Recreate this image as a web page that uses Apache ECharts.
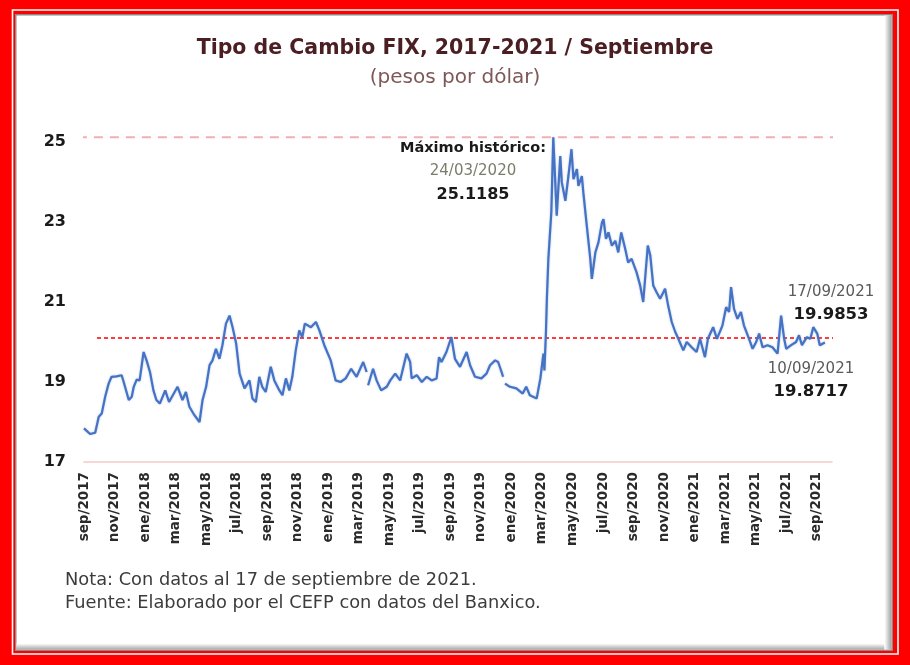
<!DOCTYPE html>
<html>
<head>
<meta charset="utf-8">
<script src="https://cdn.jsdelivr.net/npm/echarts@6/dist/echarts.min.js"></script>
<style>
html,body{margin:0;padding:0;background:#ff0000;}
#chart{width:910px;height:665px;}
</style>
</head>
<body>
<div id="chart"></div>
<script>
// ---- Data ----
const fechas = [
'2017-09-01','2017-09-13','2017-09-23','2017-09-30','2017-10-06','2017-10-13','2017-10-20','2017-10-26',
'2017-11-05','2017-11-15','2017-11-19','2017-11-29','2017-12-05','2017-12-09','2017-12-15','2017-12-21','2017-12-29',
'2018-01-04','2018-01-11','2018-01-18','2018-01-24','2018-01-31','2018-02-10','2018-02-17',
'2018-03-05','2018-03-15','2018-03-22','2018-03-29','2018-04-08','2018-04-18','2018-04-24',
'2018-05-01','2018-05-08','2018-05-14','2018-05-21','2018-05-28','2018-06-03','2018-06-10','2018-06-17','2018-06-23','2018-06-30',
'2018-07-07','2018-07-17','2018-07-27','2018-08-02','2018-08-09','2018-08-16','2018-08-22','2018-08-29',
'2018-09-08','2018-09-15','2018-09-25','2018-10-01','2018-10-08','2018-10-15','2018-10-21','2018-10-28',
'2018-11-04','2018-11-10','2018-11-15','2018-11-27','2018-12-07','2018-12-14','2018-12-17','2018-12-24',
'2019-01-06','2019-01-16','2019-01-26','2019-02-05','2019-02-15','2019-02-25','2019-03-10','2019-03-17','2019-03-18',
'2019-03-20','2019-03-30','2019-04-06','2019-04-15','2019-04-26','2019-05-03','2019-05-13','2019-05-23',
'2019-06-05','2019-06-12','2019-06-15','2019-06-25','2019-07-05','2019-07-15','2019-07-25',
'2019-08-04','2019-08-09','2019-08-14','2019-08-24','2019-09-03','2019-09-10','2019-09-20',
'2019-10-03','2019-10-10','2019-10-20','2019-11-02','2019-11-12','2019-11-19','2019-11-29',
'2019-12-05','2019-12-12','2019-12-15','2019-12-16','2019-12-19','2019-12-29',
'2020-01-11','2020-01-24','2020-01-31','2020-02-07','2020-02-20','2020-02-27',
'2020-03-04','2020-03-06','2020-03-09','2020-03-11','2020-03-14','2020-03-20','2020-03-24','2020-03-31',
'2020-04-07','2020-04-10','2020-04-17','2020-04-23','2020-04-29','2020-05-03','2020-05-10','2020-05-13','2020-05-20','2020-05-23','2020-05-30',
'2020-06-06','2020-06-09','2020-06-16','2020-06-22','2020-06-29','2020-07-02','2020-07-07','2020-07-12','2020-07-19','2020-07-26',
'2020-08-01','2020-08-07','2020-08-15','2020-08-21','2020-08-28','2020-09-07','2020-09-14','2020-09-20','2020-09-29',
'2020-10-04','2020-10-10','2020-10-17','2020-10-24','2020-11-03','2020-11-09','2020-11-16','2020-11-23','2020-11-29',
'2020-12-09','2020-12-16','2020-12-26','2021-01-05','2021-01-12','2021-01-22','2021-01-28',
'2021-02-07','2021-02-14','2021-02-24','2021-03-03','2021-03-09','2021-03-13','2021-03-19','2021-03-26',
'2021-04-02','2021-04-08','2021-04-18','2021-04-25','2021-05-02','2021-05-08','2021-05-15','2021-05-25',
'2021-06-04','2021-06-14','2021-06-21','2021-06-27','2021-07-01','2021-07-11','2021-07-21','2021-07-27',
'2021-08-02','2021-08-12','2021-08-19','2021-08-25','2021-09-02','2021-09-07','2021-09-10','2021-09-17'
];
const tipoCambio = [
17.84,17.70,17.73,18.13,18.21,18.63,18.96,19.13,
19.14,19.17,19.00,18.55,18.63,18.88,19.06,19.04,19.75,
19.54,19.25,18.79,18.55,18.46,18.79,18.50,
18.88,18.55,18.75,18.38,18.17,18.00,18.55,
18.88,19.42,19.54,19.83,19.58,19.92,20.46,20.66,20.37,19.96,
19.21,18.84,19.04,18.59,18.50,19.13,18.88,18.75,
19.38,19.04,18.79,18.67,19.09,18.79,19.13,19.79,
20.29,20.12,20.46,20.37,20.50,20.29,20.29,19.92,
19.54,19.04,19.00,19.09,19.33,19.13,19.50,19.25,null,
18.92,19.33,19.04,18.79,18.88,19.04,19.21,19.04,
19.71,19.50,19.09,19.17,19.00,19.13,19.04,
19.09,19.62,19.50,19.75,20.12,19.58,19.38,
19.75,19.42,19.13,19.09,19.21,19.42,19.54,
19.50,19.25,19.13,null,18.96,18.88,
18.84,18.71,18.88,18.67,18.59,19.09,
19.71,19.29,20.21,21.08,22.08,23.24,25.1185,23.16,
24.65,23.99,23.53,24.15,24.82,24.07,24.32,23.90,24.15,23.74,22.91,
22.08,21.58,22.24,22.49,22.99,23.07,22.58,22.74,22.41,22.53,
22.24,22.74,22.33,21.99,22.08,21.74,21.41,21.00,22.41,
22.16,21.41,21.24,21.08,21.33,20.91,20.50,20.25,20.08,
19.79,20.00,19.87,19.75,20.08,19.62,20.08,
20.37,20.08,20.41,20.87,20.75,21.37,20.83,20.58,
20.75,20.41,20.08,19.83,20.00,20.21,19.87,19.92,
19.87,19.71,20.66,20.08,19.83,19.92,20.00,20.17,
19.92,20.12,20.08,20.37,20.21,19.92,19.8717,19.9853
];
const etiquetasX = ['sep/2017','nov/2017','ene/2018','mar/2018','may/2018','jul/2018','sep/2018','nov/2018',
'ene/2019','mar/2019','may/2019','jul/2019','sep/2019','nov/2019','ene/2020','mar/2020','may/2020',
'jul/2020','sep/2020','nov/2020','ene/2021','mar/2021','may/2021','jul/2021','sep/2021'];
const maximoHistorico = 25.1185;
const lineaReferencia = 20.1;
// horizontal extent (in months from 1 Sep 2017) of the two guide lines
const tramoMaximo = [-0.4, 49.2];
const tramoReferencia = [0.85, 50.2];

// month index from 1 Sep 2017
function mesIdx(s){
  const p = s.split('-').map(Number);
  const dim = new Date(p[0], p[1], 0).getDate();
  return (p[0]-2017)*12 + (p[1]-9) + (p[2]-1)/dim;
}
const serie = fechas.map((f,i)=>[mesIdx(f), tipoCambio[i]===null ? '-' : tipoCambio[i]]);

const FONT = 'DejaVu Sans';
const F = (w,s)=> (w?'bold ':'') + s + 'px "DejaVu Sans"';
const chart = echarts.init(document.getElementById('chart'));
chart.setOption({
  backgroundColor: '#ff0000',
  animation: false,
  textStyle: {fontFamily: FONT},
  title: {
    text: 'Tipo de Cambio FIX, 2017-2021 / Septiembre',
    subtext: '(pesos por dólar)',
    left: 'center',
    top: 33,
    itemGap: 9,
    textStyle: {fontFamily: FONT, fontSize: 20.5, fontWeight: 'bold', color: '#4a1e22'},
    subtextStyle: {fontFamily: FONT, fontSize: 20, color: '#7d5858'}
  },
  graphic: [
    {type:'rect', z:-10, silent:true, shape:{x:12.5,y:10,width:885.5,height:644}, style:{fill:'none', stroke:'#ffffff', lineWidth:1.6}},
    {type:'rect', z:-9, silent:true, shape:{x:15,y:14,width:878,height:637}, style:{fill:'#8a8a8a'}},
    {type:'rect', z:-8, silent:true, shape:{x:16.5,y:15.5,width:875,height:634}, style:{fill:'#ffffff'}},
    {type:'rect', z:-7, silent:true, shape:{x:16.5,y:643.5,width:868,height:6}, style:{fill:{type:'linear',x:0,y:0,x2:0,y2:1,colorStops:[{offset:0,color:'#ffffff'},{offset:1,color:'#a8a8a8'}]}}},
    {type:'rect', z:-7, silent:true, shape:{x:884.5,y:15.5,width:7,height:634}, style:{fill:{type:'linear',x:0,y:0,x2:1,y2:0,colorStops:[{offset:0,color:'#ffffff'},{offset:1,color:'#a0a0a0'}]}}},
    {type:'text', x:473, y:148, style:{text:'Máximo histórico:', font:F(1,14.5), fill:'#1a1a1a', textAlign:'center', textVerticalAlign:'middle'}},
    {type:'text', x:473, y:171, style:{text:'24/03/2020', font:F(0,15), fill:'#7c7c6c', textAlign:'center', textVerticalAlign:'middle'}},
    {type:'text', x:473, y:195, style:{text:'25.1185', font:F(1,16), fill:'#1a1a1a', textAlign:'center', textVerticalAlign:'middle'}},
    {type:'text', x:831, y:292, style:{text:'17/09/2021', font:F(0,15), fill:'#5a5a5a', textAlign:'center', textVerticalAlign:'middle'}},
    {type:'text', x:831, y:315, style:{text:'19.9853', font:F(1,16.5), fill:'#1a1a1a', textAlign:'center', textVerticalAlign:'middle'}},
    {type:'text', x:811, y:369, style:{text:'10/09/2021', font:F(0,15), fill:'#5a5a5a', textAlign:'center', textVerticalAlign:'middle'}},
    {type:'text', x:811, y:392, style:{text:'19.8717', font:F(1,16.5), fill:'#1a1a1a', textAlign:'center', textVerticalAlign:'middle'}},
    {type:'text', x:65, y:580, style:{text:'Nota: Con datos al 17 de septiembre de 2021.', font:F(0,17.8), fill:'#3c3c3c', textVerticalAlign:'middle'}},
    {type:'text', x:65, y:603, style:{text:'Fuente: Elaborado por el CEFP con datos del Banxico.', font:F(0,17.8), fill:'#3c3c3c', textVerticalAlign:'middle'}}
  ],
  grid: {left:84, right:78, top:130, bottom:203, containLabel:false},
  xAxis: {
    type: 'value', min: 0, max: 49, interval: 2,
    axisLine: {show:true, lineStyle:{color:'#f5c9c9', width:1.5}},
    axisTick: {show:false},
    splitLine: {show:false},
    axisLabel: {
      rotate: 90, margin: 10, fontSize: 13.5, fontWeight: 'bold', color: '#2a2a2a', fontFamily: FONT,
      formatter: function(v){ return (v % 2 === 0 && etiquetasX[v/2]) ? etiquetasX[v/2] : ''; }
    }
  },
  yAxis: {
    type: 'value', min: 17, max: 25.3, interval: 2,
    axisLine: {show:false}, axisTick: {show:false}, splitLine: {show:false},
    axisLabel: {
      margin: 18, fontSize: 16, fontWeight: 'bold', color: '#1a1a1a', fontFamily: FONT,
      formatter: function(v){ return Number.isInteger(v) ? String(v) : ''; }
    }
  },
  series: [{
    type: 'line',
    name: 'Máximo',
    data: tramoMaximo.map(x=>[x, maximoHistorico]),
    symbol: 'none', clip: false, silent: true, z: 1,
    lineStyle: {color:'#f3aeae', type:[9,7], width:2}
  },{
    type: 'line',
    name: 'Referencia',
    data: tramoReferencia.map(x=>[x, lineaReferencia]),
    symbol: 'none', clip: false, silent: true, z: 1,
    lineStyle: {color:'#ff3b3b', type:[4,3], width:2}
  },{
    type: 'line',
    name: 'Tipo de cambio FIX',
    data: serie,
    showSymbol: false,
    symbol: 'none',
    connectNulls: false,
    clip: false,
    z: 3,
    lineStyle: {color:'#4472c4', width:2.2, shadowBlur:2, shadowColor:'rgba(68,114,196,0.45)'}
  }]
});
</script>
</body>
</html>
